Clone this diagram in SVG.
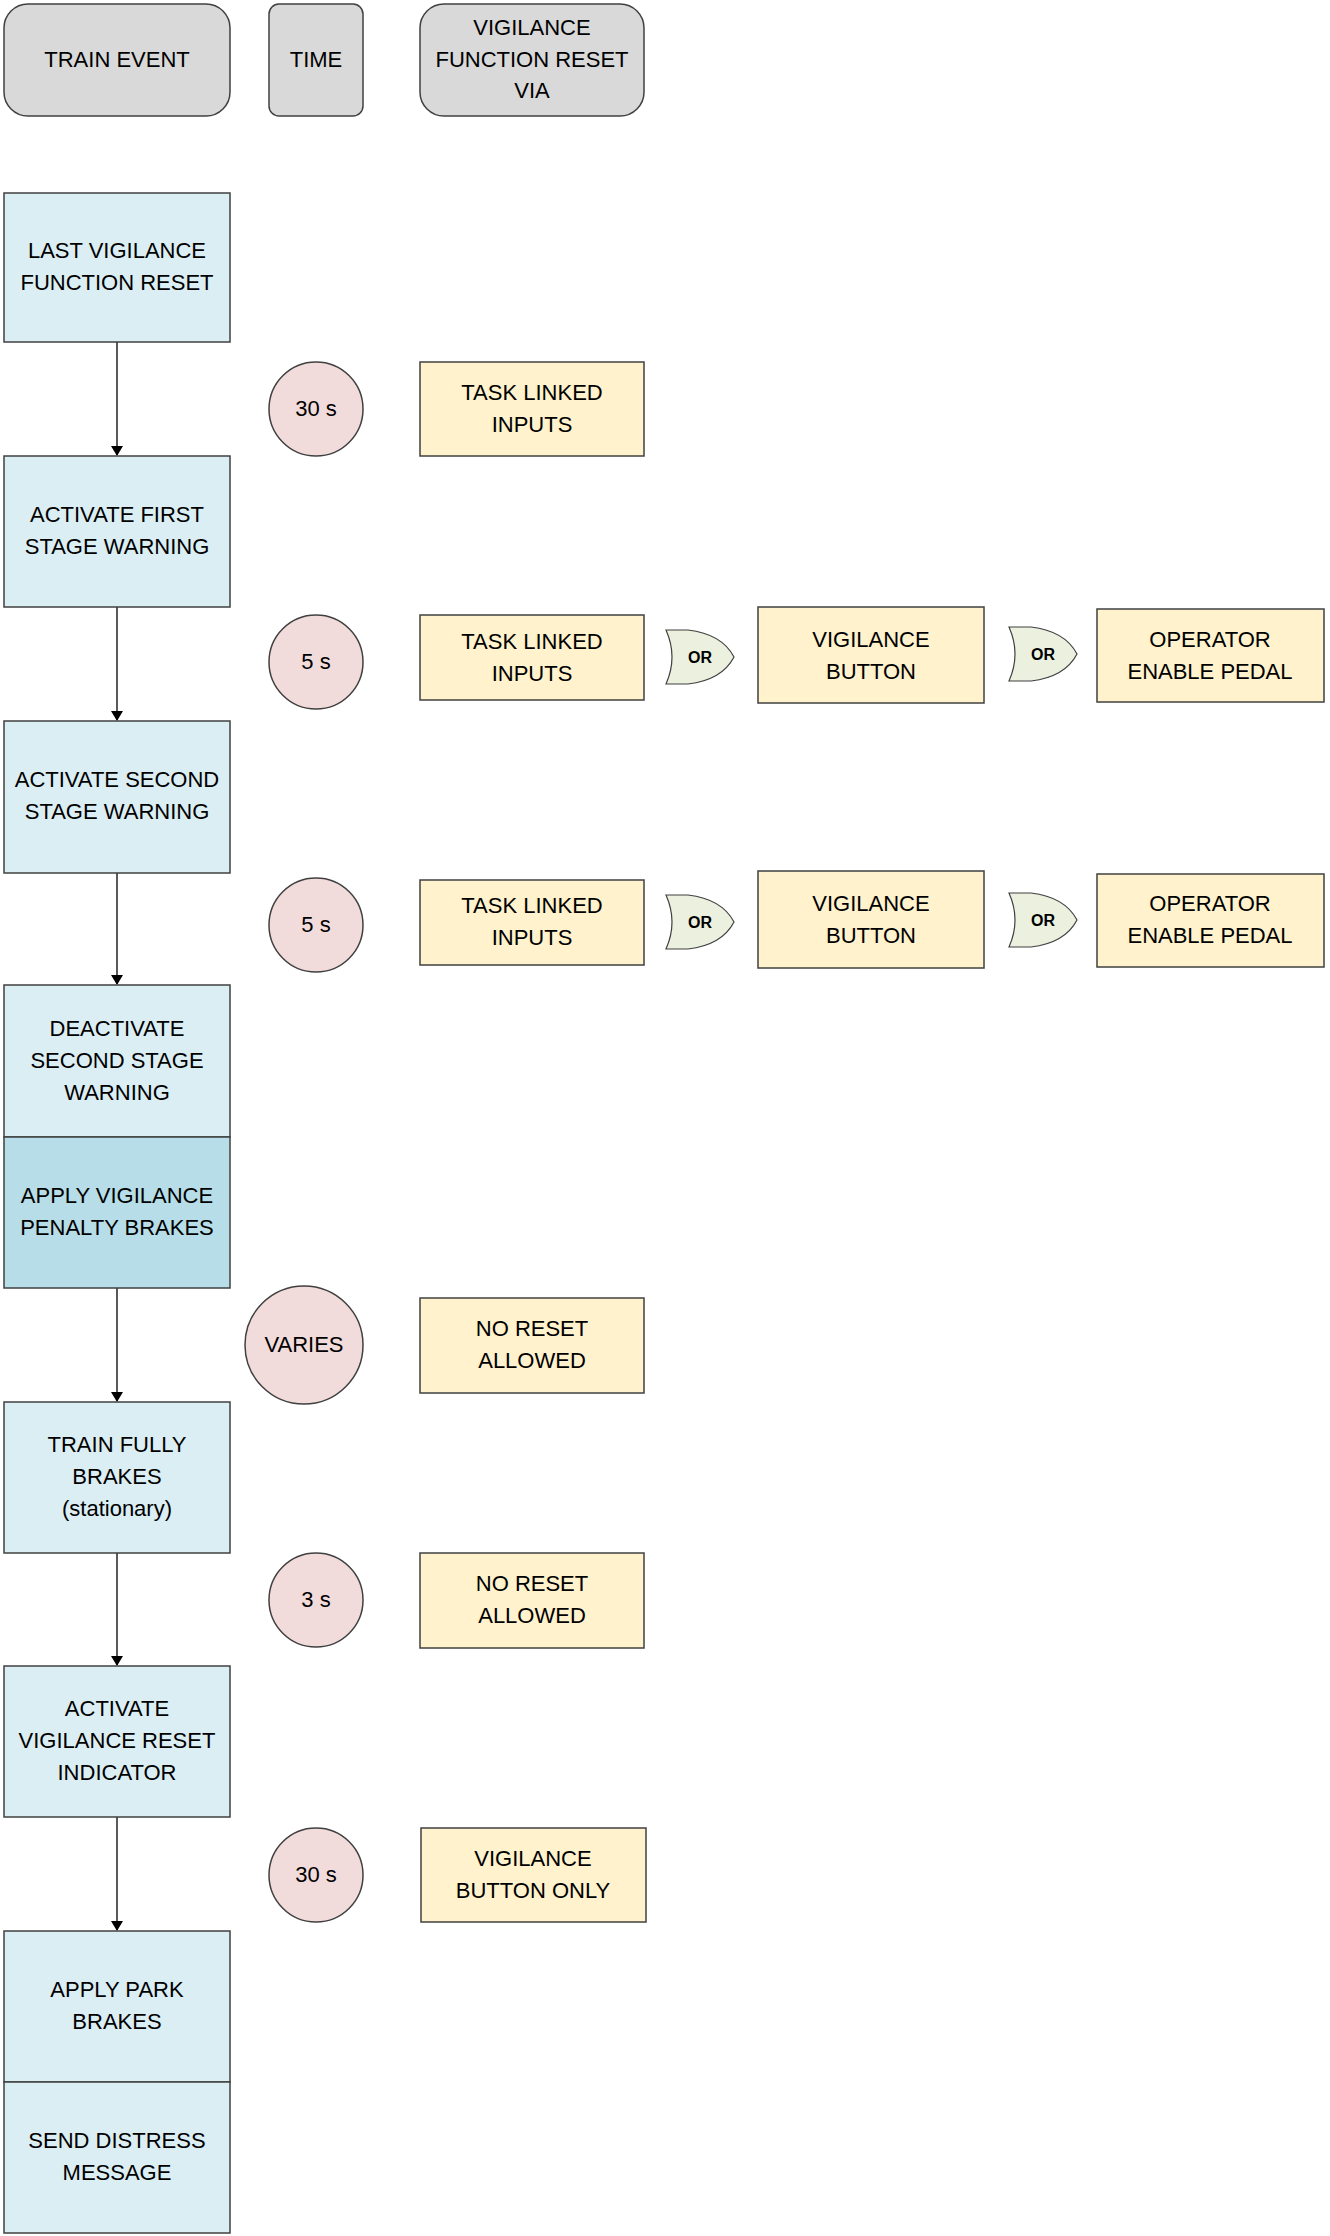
<svg xmlns="http://www.w3.org/2000/svg" width="1330" height="2236" viewBox="0 0 1330 2236">
<style>
text{font-family:"Liberation Sans",Arial,sans-serif;font-size:22px;fill:#000;text-anchor:middle}
.hd{fill:#d9d9d9;stroke:#404040;stroke-width:1.5}
.ev{fill:#dbeef4;stroke:#404040;stroke-width:1.5}
.ev2{fill:#b7dde8;stroke:#404040;stroke-width:1.5}
.rs{fill:#fff2cc;stroke:#404040;stroke-width:1.5}
.tm{fill:#f2dcdb;stroke:#404040;stroke-width:1.5}
.or{fill:#ebf1de;stroke:#404040;stroke-width:1.2}
.ot{font-size:16px;font-weight:bold}
.cn{stroke:#000;stroke-width:1.3;fill:none;marker-end:url(#ah)}
</style>
<defs><marker id="ah" markerWidth="10" markerHeight="12" refX="9" refY="6" orient="auto" markerUnits="userSpaceOnUse"><path d="M0,0 L10,6 L0,12 Z" fill="#000"/></marker>
<path id="org" d="M0,0 H22 Q56,4 68,27 Q56,50 22,54 H0 Q12,27 0,0 Z"/></defs>
<rect width="1330" height="2236" fill="#fff"/>
<g id="h1"><rect class="hd" x="4" y="4" width="226" height="112" rx="24"/><text x="117" y="67">TRAIN EVENT</text></g>
<g id="h2"><rect class="hd" x="269" y="4" width="94" height="112" rx="10"/><text x="316" y="67">TIME</text></g>
<g id="h3"><rect class="hd" x="420" y="4" width="224" height="112" rx="24"/><text x="532" y="35">VIGILANCE</text><text x="532" y="67">FUNCTION RESET</text><text x="532" y="98">VIA</text></g>

<g id="connectors">
<line class="cn" x1="117" y1="342" x2="117" y2="455"/>
<line class="cn" x1="117" y1="607" x2="117" y2="720"/>
<line class="cn" x1="117" y1="873" x2="117" y2="984"/>
<line class="cn" x1="117" y1="1288" x2="117" y2="1401"/>
<line class="cn" x1="117" y1="1553" x2="117" y2="1665"/>
<line class="cn" x1="117" y1="1817" x2="117" y2="1930"/>
</g>

<g id="e1"><rect class="ev" x="4" y="193" width="226" height="149"/><text x="117" y="258">LAST VIGILANCE</text><text x="117" y="290">FUNCTION RESET</text></g>
<g id="e2"><rect class="ev" x="4" y="456" width="226" height="151"/><text x="117" y="522">ACTIVATE FIRST</text><text x="117" y="554">STAGE WARNING</text></g>
<g id="e3"><rect class="ev" x="4" y="721" width="226" height="152"/><text x="117" y="787">ACTIVATE SECOND</text><text x="117" y="819">STAGE WARNING</text></g>
<g id="e4"><rect class="ev" x="4" y="985" width="226" height="152"/><text x="117" y="1036">DEACTIVATE</text><text x="117" y="1068">SECOND STAGE</text><text x="117" y="1100">WARNING</text></g>
<g id="e5"><rect class="ev2" x="4" y="1137" width="226" height="151"/><text x="117" y="1203">APPLY VIGILANCE</text><text x="117" y="1235">PENALTY BRAKES</text></g>
<g id="e6"><rect class="ev" x="4" y="1402" width="226" height="151"/><text x="117" y="1452">TRAIN FULLY</text><text x="117" y="1484">BRAKES</text><text x="117" y="1516">(stationary)</text></g>
<g id="e7"><rect class="ev" x="4" y="1666" width="226" height="151"/><text x="117" y="1716">ACTIVATE</text><text x="117" y="1748">VIGILANCE RESET</text><text x="117" y="1780">INDICATOR</text></g>
<g id="e8"><rect class="ev" x="4" y="1931" width="226" height="151"/><text x="117" y="1997">APPLY PARK</text><text x="117" y="2029">BRAKES</text></g>
<g id="e9"><rect class="ev" x="4" y="2082" width="226" height="151"/><text x="117" y="2148">SEND DISTRESS</text><text x="117" y="2180">MESSAGE</text></g>

<g id="t1"><ellipse class="tm" cx="316" cy="409" rx="47" ry="47"/><text x="316" y="416">30 s</text></g>
<g id="t2"><ellipse class="tm" cx="316" cy="662" rx="47" ry="47"/><text x="316" y="669">5 s</text></g>
<g id="t3"><ellipse class="tm" cx="316" cy="925" rx="47" ry="47"/><text x="316" y="932">5 s</text></g>
<g id="t4"><ellipse class="tm" cx="304" cy="1345" rx="59" ry="59"/><text x="304" y="1352">VARIES</text></g>
<g id="t5"><ellipse class="tm" cx="316" cy="1600" rx="47" ry="47"/><text x="316" y="1607">3 s</text></g>
<g id="t6"><ellipse class="tm" cx="316" cy="1875" rx="47" ry="47"/><text x="316" y="1882">30 s</text></g>

<g id="r1"><rect class="rs" x="420" y="362" width="224" height="94"/><text x="532" y="400">TASK LINKED</text><text x="532" y="432">INPUTS</text></g>
<g id="r2"><rect class="rs" x="420" y="615" width="224" height="85"/><text x="532" y="649">TASK LINKED</text><text x="532" y="681">INPUTS</text></g>
<g id="g1"><use href="#org" class="or" x="666" y="630"/><text class="ot" x="700" y="663">OR</text></g>
<g id="r3"><rect class="rs" x="758" y="607" width="226" height="96"/><text x="871" y="647">VIGILANCE</text><text x="871" y="679">BUTTON</text></g>
<g id="g2"><use href="#org" class="or" x="1009" y="627"/><text class="ot" x="1043" y="660">OR</text></g>
<g id="r4"><rect class="rs" x="1097" y="609" width="227" height="93"/><text x="1210" y="647">OPERATOR</text><text x="1210" y="679">ENABLE PEDAL</text></g>

<g id="r5"><rect class="rs" x="420" y="880" width="224" height="85"/><text x="532" y="913">TASK LINKED</text><text x="532" y="945">INPUTS</text></g>
<g id="g3"><use href="#org" class="or" x="666" y="895"/><text class="ot" x="700" y="928">OR</text></g>
<g id="r6"><rect class="rs" x="758" y="871" width="226" height="97"/><text x="871" y="911">VIGILANCE</text><text x="871" y="943">BUTTON</text></g>
<g id="g4"><use href="#org" class="or" x="1009" y="893"/><text class="ot" x="1043" y="926">OR</text></g>
<g id="r7"><rect class="rs" x="1097" y="874" width="227" height="93"/><text x="1210" y="911">OPERATOR</text><text x="1210" y="943">ENABLE PEDAL</text></g>

<g id="r8"><rect class="rs" x="420" y="1298" width="224" height="95"/><text x="532" y="1336">NO RESET</text><text x="532" y="1368">ALLOWED</text></g>
<g id="r9"><rect class="rs" x="420" y="1553" width="224" height="95"/><text x="532" y="1591">NO RESET</text><text x="532" y="1623">ALLOWED</text></g>
<g id="r10"><rect class="rs" x="421" y="1828" width="225" height="94"/><text x="533" y="1866">VIGILANCE</text><text x="533" y="1898">BUTTON ONLY</text></g>
</svg>
